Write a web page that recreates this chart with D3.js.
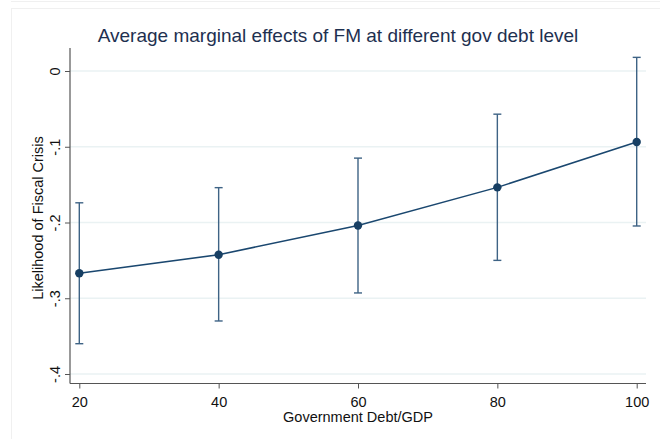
<!DOCTYPE html>
<html><head><meta charset="utf-8">
<script src="https://cdn.jsdelivr.net/npm/d3@7"></script>
<style>body{margin:0;background:#fff}svg{display:block}</style>
</head><body>
<svg id="c" width="660" height="439"></svg>
<script>
const debtLevels = [20, 40, 60, 80, 100];
const effects = [-0.267, -0.2425, -0.204, -0.1536, -0.0937];
const ciLower = [-0.360, -0.330, -0.293, -0.250, -0.2046];
const ciUpper = [-0.174, -0.154, -0.115, -0.057, 0.018];
const yTicks = [0, -0.1, -0.2, -0.3, -0.4];
const yTickLabels = ["0", "-.1", "-.2", "-.3", "-.4"];
const xTicks = [20, 40, 60, 80, 100];

(function(){
const svg = d3.select("#c");
const font = "Arial, 'Liberation Sans', sans-serif";
const navy = "#1a476f";

// faint outer frames
svg.append("line").attr("x1",11).attr("x2",660).attr("y1",1.5).attr("y2",1.5).attr("stroke","#f0f0f0");
svg.append("rect").attr("x",11.5).attr("y",8.5).attr("width",660).attr("height",460).attr("fill","none").attr("stroke","#f0f0f0");

const x = d3.scaleLinear().domain([20,100]).range([79.3,636.7]);
const y = d3.scaleLinear().domain([-0.4,0]).range([374,71]);
const pLeft = 70, pRight = 646, pTop = 48, pBottom = 383.5;

// gridlines
svg.append("g").selectAll("line").data(yTicks).join("line")
  .attr("x1",pLeft).attr("x2",pRight)
  .attr("y1",d=>y(d)).attr("y2",d=>y(d))
  .attr("stroke","#eaf2f3").attr("stroke-width",1.3);

// y axis
const yAxis = svg.append("g").attr("transform",`translate(${pLeft},0)`)
  .call(d3.axisLeft(y).tickValues(yTicks).tickSize(5).tickFormat((d,i)=>yTickLabels[i]));
yAxis.select(".domain").remove();
yAxis.append("line").attr("x1",0).attr("x2",0).attr("y1",pTop).attr("y2",pBottom).attr("stroke","#555").attr("stroke-width",1.2);
yAxis.selectAll(".tick line").attr("stroke","#555");
yAxis.selectAll(".tick text")
  .attr("transform","rotate(-90)").attr("x",0).attr("y",-10).attr("dy",0)
  .attr("text-anchor","middle")
  .style("font-family",font).style("font-size","14.5px").attr("fill","#111");

// x axis
const xAxis = svg.append("g").attr("transform",`translate(0,${pBottom})`)
  .call(d3.axisBottom(x).tickValues(xTicks).tickSize(5).tickFormat(d3.format("d")));
xAxis.select(".domain").remove();
xAxis.append("line").attr("x1",pLeft).attr("x2",pRight).attr("y1",0).attr("y2",0).attr("stroke","#555").attr("stroke-width",1.2);
xAxis.selectAll(".tick line").attr("stroke","#555");
xAxis.selectAll(".tick text").attr("y",23).attr("dy",0)
  .style("font-family",font).style("font-size","14.5px").attr("fill","#111");

// CI caps
const ci = svg.append("g");
debtLevels.forEach((d,i)=>{
  ci.append("line").attr("x1",x(d)).attr("x2",x(d)).attr("y1",y(ciLower[i])).attr("y2",y(ciUpper[i]))
    .attr("stroke","#3e6385").attr("stroke-width",1.4);
  [ciLower[i],ciUpper[i]].forEach(v=>{
    ci.append("line").attr("x1",x(d)-4).attr("x2",x(d)+4).attr("y1",y(v)).attr("y2",y(v))
      .attr("stroke","#3e6385").attr("stroke-width",1.4);
  });
});

// line
const pts = debtLevels.map((d,i)=>[d,effects[i]]);
svg.append("path").datum(pts)
  .attr("d", d3.line().x(d=>x(d[0])).y(d=>y(d[1])))
  .attr("fill","none").attr("stroke",navy).attr("stroke-width",1.5);
svg.append("g").selectAll("circle").data(pts).join("circle")
  .attr("cx",d=>x(d[0])).attr("cy",d=>y(d[1])).attr("r",4.2).attr("fill","#173f63");

// title
svg.append("text").attr("x",338).attr("y",42).attr("text-anchor","middle")
  .style("font-family",font).style("font-size","19px").attr("fill","#1e3050")
  .text("Average marginal effects of FM at different gov debt level");

// axis titles
svg.append("text").attr("x",358).attr("y",422).attr("text-anchor","middle")
  .style("font-family",font).style("font-size","14.5px").attr("fill","#111")
  .text("Government Debt/GDP");
svg.append("text").attr("transform","translate(43,218) rotate(-90)").attr("text-anchor","middle")
  .style("font-family",font).style("font-size","14.5px").attr("fill","#111")
  .text("Likelihood of Fiscal Crisis");
})();
</script>
</body></html>
